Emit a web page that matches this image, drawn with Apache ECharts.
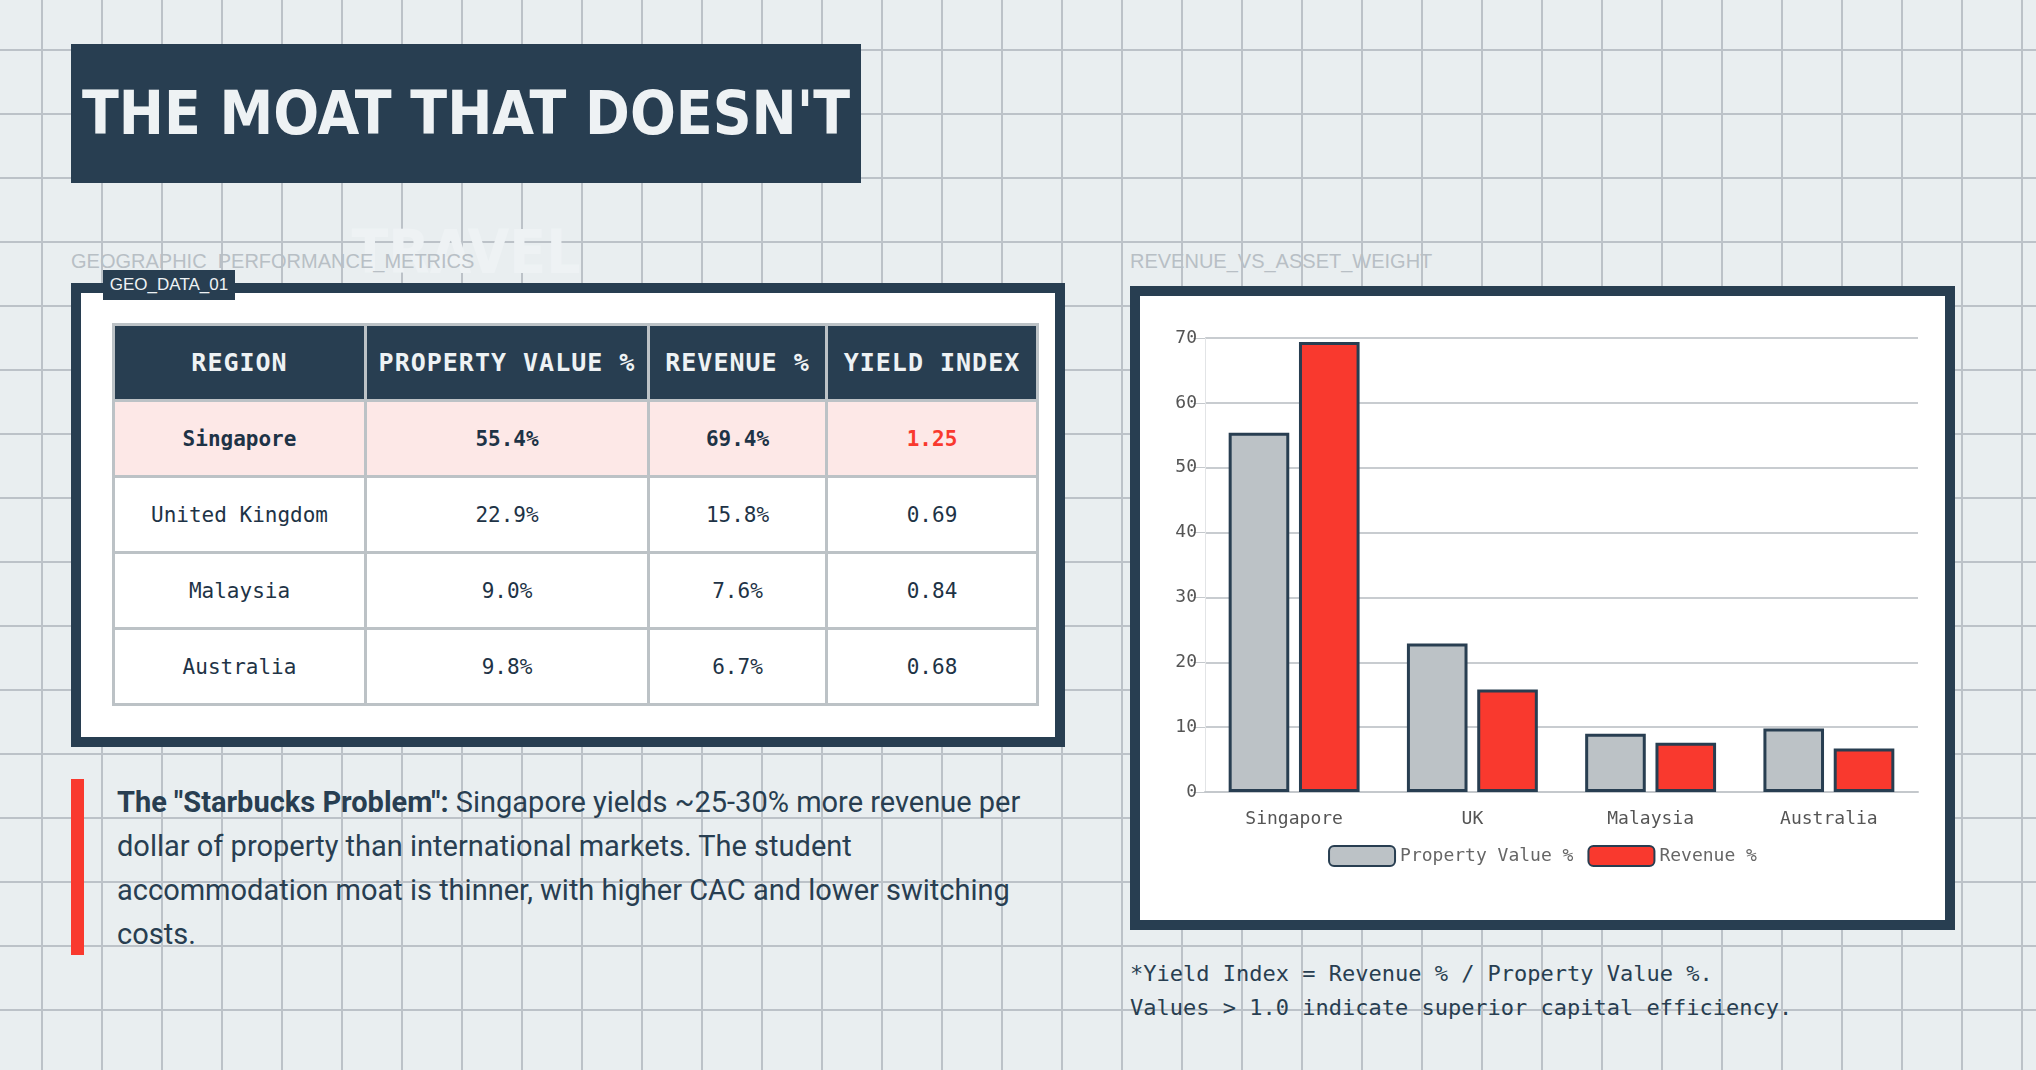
<!DOCTYPE html>
<html><head><meta charset="utf-8">
<script src="https://cdn.jsdelivr.net/npm/echarts@6/dist/echarts.min.js"></script>
<style>
  html,body{margin:0;padding:0}
  body{width:2036px;height:1070px;position:relative;overflow:hidden;background-color:#e9eef0;
    background-image:linear-gradient(#bcc2c8 2px,transparent 2px),linear-gradient(90deg,#bcc2c8 2px,transparent 2px);
    background-size:60px 64px;background-position:41px 49px;font-family:Roboto,sans-serif}
  .abs{position:absolute}
  #title{left:71px;top:44px;width:790px;height:139px;background:#283e51;color:#eef2f4;
    font-family:"Liberation Sans Narrow","DejaVu Sans Condensed",sans-serif;font-weight:bold;font-size:60px;
    line-height:139px;text-align:center;letter-spacing:0px}
  .lbl{color:#b8bfc5;font-family:"Liberation Sans Narrow",sans-serif;font-size:20px}
  #lp{left:71px;top:283px;width:974px;height:444px;border:10px solid #283e51;background:#fff}
  #tag{left:103px;top:270px;width:132px;height:30px;background:#283e51;color:#eef2f4;
    font-family:"Liberation Sans Narrow",sans-serif;font-size:17px;line-height:30px;text-align:center}
  table{position:absolute;left:112px;top:323px;border-collapse:collapse;border:3px solid #bcc2c6;
    font-family:"DejaVu Sans Mono",monospace;font-size:21px;color:#1e3346}
  td,th{border:3px solid #bcc2c6;text-align:center;padding:0}
  th{background:#283e51;color:#eef2f4;height:73px;font-weight:bold;font-family:"Liberation Sans Narrow","DejaVu Sans Mono";font-size:25px;letter-spacing:1px}
  td{height:73px;background:#fff}
  tr.hl td{background:#fde8e7;font-weight:bold}
  #note{left:71px;top:779px;width:13px;height:176px;background:#f9392e}
  #ntxt{left:117px;top:780px;width:920px;font-size:29px;line-height:44px;color:#283e51}
  #rp{left:1130px;top:286px;width:805px;height:624px;border:10px solid #283e51;background:#fff}
  #chart{left:1140px;top:296px;width:805px;height:624px}
  #foot{left:1130px;top:957px;font-family:"DejaVu Sans Mono",monospace;font-size:22px;line-height:34px;color:#283e51}
</style></head><body>
<div id="title" class="abs">THE MOAT THAT DOESN'T TRAVEL</div>
<div class="abs lbl" style="left:71px;top:250px">GEOGRAPHIC_PERFORMANCE_METRICS</div>
<div class="abs lbl" style="left:1130px;top:250px">REVENUE_VS_ASSET_WEIGHT</div>
<div id="lp" class="abs"></div>
<div id="tag" class="abs">GEO_DATA_01</div>
<table id="tbl"></table>
<div id="note" class="abs"></div>
<div id="ntxt" class="abs"><b>The "Starbucks Problem":</b> Singapore yields ~25-30% more revenue per dollar of property than international markets. The student accommodation moat is thinner, with higher CAC and lower switching costs.</div>
<div id="rp" class="abs"></div>
<div id="chart" class="abs"></div>
<div id="foot" class="abs">*Yield Index = Revenue % / Property Value %.<br>Values &gt; 1.0 indicate superior capital efficiency.</div>
<script>
var headers = ["REGION", "PROPERTY VALUE %", "REVENUE %", "YIELD INDEX"];
var regions = ["Singapore", "United Kingdom", "Malaysia", "Australia"];
var shortNames = ["Singapore", "UK", "Malaysia", "Australia"];
var propertyValue = [55.4, 22.9, 9.0, 9.8];
var revenue = [69.4, 15.8, 7.6, 6.7];
var yieldIndex = ["1.25", "0.69", "0.84", "0.68"];
var colWidths = [192, 216, 135, 160];
var yTicks = {min: 0, max: 70, interval: 10};

var scale = 1.2985;
var html = "<tr>" + headers.map(function (h, i) {
  return '<th style="width:' + Math.round(colWidths[i] * scale) + 'px">' + h + "</th>";
}).join("") + "</tr>";
regions.forEach(function (r, i) {
  html += '<tr class="' + (i === 0 ? "hl" : "") + '"><td>' + r + "</td><td>" + propertyValue[i].toFixed(1) +
    "%</td><td>" + revenue[i].toFixed(1) + '%</td><td style="' + (i === 0 ? "color:#f9392e" : "") + '">' +
    yieldIndex[i] + "</td></tr>";
});
document.getElementById("tbl").innerHTML = html;

var chart = echarts.init(document.getElementById("chart"));
var mono = "DejaVu Sans Mono";
chart.setOption({
  animation: false,
  textStyle: {fontFamily: mono},
  grid: {left: 65, right: 27, top: 42, bottom: 128},
  legend: {
    bottom: 48, itemWidth: 66, itemHeight: 20, itemGap: 14,
    textStyle: {fontFamily: mono, fontSize: 18, color: "#666"},
    data: ["Property Value %", "Revenue %"]
  },
  xAxis: {
    type: "category", data: shortNames,
    axisLine: {lineStyle: {color: "#c4c8cc", width: 2}},
    axisTick: {show: false},
    axisLabel: {fontFamily: mono, fontSize: 18, color: "#555", margin: 18}
  },
  yAxis: {
    type: "value", min: yTicks.min, max: yTicks.max, interval: yTicks.interval,
    axisLine: {show: true, lineStyle: {color: "#e2e4e6"}},
    axisTick: {show: true, length: 12, lineStyle: {color: "#c4c8cc"}},
    axisLabel: {fontFamily: mono, fontSize: 18, color: "#555", margin: 8},
    splitLine: {lineStyle: {color: "#c8ccd0", width: 2}}
  },
  series: [
    {name: "Property Value %", type: "bar", data: propertyValue, barWidth: "34%", barGap: "16%",
      itemStyle: {color: "#bcc2c6", borderColor: "#283e51", borderWidth: 3}},
    {name: "Revenue %", type: "bar", data: revenue, barWidth: "34%",
      itemStyle: {color: "#f9392e", borderColor: "#283e51", borderWidth: 3}}
  ]
});
</script>
</body></html>
